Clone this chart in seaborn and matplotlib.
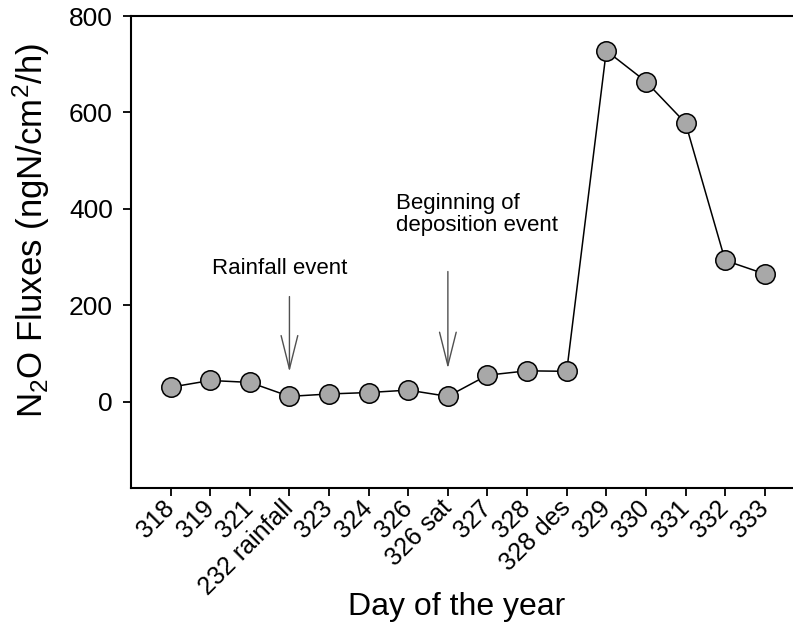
import matplotlib
matplotlib.use("Agg")
import matplotlib.pyplot as plt
import seaborn as sns
import pandas as pd

days = ["318", "319", "321", "232 rainfall", "323", "324", "326", "326 sat",
        "327", "328", "328 des", "329", "330", "331", "332", "333"]
flux = [30, 44, 40, 11, 16, 19, 24, 11, 55, 64, 63, 728, 664, 578, 293, 265]

df = pd.DataFrame({"day": days, "flux": flux, "pos": range(len(days))})

sns.set_theme(style="white")
plt.rcParams["font.family"] = ["Liberation Sans", "DejaVu Sans"]
plt.rcParams["mathtext.default"] = "regular"
plt.rcParams["text.color"] = "black"
plt.rcParams["axes.labelcolor"] = "black"
plt.rcParams["xtick.color"] = "black"
plt.rcParams["ytick.color"] = "black"

fig = plt.figure(figsize=(7.93, 6.23), dpi=100)
W, H = 793, 623
x0, x1, y0, y1 = 131, 800, 16, 487.5
ax = fig.add_axes([x0 / W, 1 - y1 / H, (x1 - x0) / W, (y1 - y0) / H])

sns.lineplot(data=df, x="pos", y="flux", ax=ax, color="black", linewidth=1.1,
             marker="o", markersize=14, markerfacecolor="#a8a8a8",
             markeredgecolor="black", markeredgewidth=1.1)

ax.set_xlim(-1, 15.89)
ax.set_ylim(-178, 800)
ax.set_xticks(range(len(days)))
ax.set_xticklabels(days, rotation=45, ha="right", va="center",
                   rotation_mode="anchor", fontsize=18)
ax.set_yticks([0, 200, 400, 600, 800])
ax.tick_params(axis="y", labelsize=19, length=6, width=1.3, direction="out",
               left=True, pad=7)
ax.tick_params(axis="x", length=6, width=1.3, direction="out", bottom=True,
               pad=6)
for s in ax.spines.values():
    s.set_linewidth(1.5)
    s.set_color("black")

ax.set_xlabel("Day of the year", fontsize=23)
ax.set_ylabel("N$_2$O Fluxes (ngN/cm$^2$/h)", fontsize=25)
ax.xaxis.set_label_coords(0.486, -0.222)
ax.yaxis.set_label_coords(-0.118, 0.546)

arrow = dict(arrowstyle="->,head_length=1.2,head_width=0.3", color="#505050",
             lw=1.0, shrinkA=0, shrinkB=0, mutation_scale=20)
ax.annotate("", xy=(3, 62), xytext=(3, 218), arrowprops=arrow)
ax.annotate("", xy=(7, 69), xytext=(7, 270), arrowprops=arrow)
ax.text(1.05, 277, "Rainfall event", fontsize=16, ha="left", va="center")
ax.text(5.69, 388, "Beginning of\ndeposition event", fontsize=16, ha="left",
        va="center", linespacing=1.05)

fig.savefig("out.png", dpi=100)
